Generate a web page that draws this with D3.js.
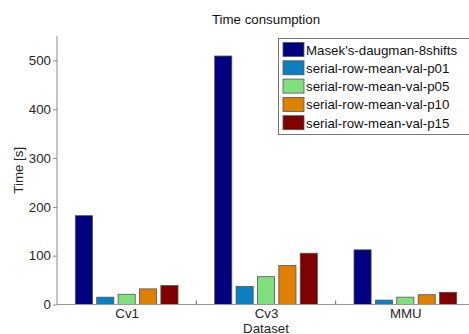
<!DOCTYPE html>
<html><head><meta charset="utf-8">
<script src="https://cdn.jsdelivr.net/npm/d3@7"></script>
<style>body{margin:0;background:#fff;} svg{display:block;font-family:"Liberation Sans",Arial,sans-serif;}</style>
</head><body>
<script>
const categories = ["Cv1", "Cv3", "MMU"];
const seriesNames = ["Masek's-daugman-8shifts", "serial-row-mean-val-p01", "serial-row-mean-val-p05", "serial-row-mean-val-p10", "serial-row-mean-val-p15"];
const masek = [182, 509, 112];
const p01 = [15, 37, 9];
const p05 = [21, 57, 15];
const p10 = [32, 80, 20];
const p15 = [39, 105, 25];
const colors = ["#000080", "#0a80c2", "#80e080", "#e08000", "#800000"];
const yTicks = [0, 100, 200, 300, 400, 500];
const series = [masek, p01, p05, p10, p15];

(function () {
const W = 469, H = 334;
const FS = 13.3;
const svg = d3.select("body").append("svg").attr("width", W).attr("height", H);
const mLeft = 57, mRight = 475, mTop = 36, mBottom = 304.5;
const x = d3.scaleLinear().domain([0.5, 3.5]).range([mLeft, mRight]);
const y = d3.scaleLinear().domain([0, 550]).range([mBottom, mTop]);
const step = (x(2) - x(1));
const barStep = step * 0.1535, barW = step * 0.123;
const textCol = "#262626";

// bars
series.forEach((vals, si) => {
  svg.append("g").selectAll("rect").data(vals).enter().append("rect")
    .attr("x", (d, i) => x(i + 1) + (si - 2) * barStep - barW / 2)
    .attr("width", barW)
    .attr("y", d => y(d))
    .attr("height", d => y(0) - y(d))
    .attr("fill", colors[si])
    .attr("stroke", "#555").attr("stroke-width", 0.8);
});

// y axis
const yAxis = d3.axisLeft(y).tickValues(yTicks).tickSize(4).tickPadding(2);
const gy = svg.append("g").attr("transform", `translate(${mLeft},0)`).call(yAxis);
gy.select(".domain").attr("stroke", "#888").attr("d", `M0,${mTop}V${mBottom}`);
gy.selectAll(".tick line").attr("stroke", "#888");
gy.selectAll("text").attr("font-size", FS).attr("fill", textCol).attr("font-family", "Liberation Sans, Arial, sans-serif");

// x axis
const xAxis = d3.axisBottom(x).tickValues([1, 2, 3]).tickFormat((d, i) => categories[i]).tickSize(0).tickPadding(4);
const gx = svg.append("g").attr("transform", `translate(0,${mBottom})`).call(xAxis);
gx.select(".domain").attr("stroke", "#999").attr("d", `M${mLeft},0H${mRight}`);
gx.selectAll("text").attr("font-size", FS).attr("fill", textCol).attr("font-family", "Liberation Sans, Arial, sans-serif");
gx.selectAll(".minor").data([1.5, 2.5]).enter().append("line")
  .attr("x1", d => x(d)).attr("x2", d => x(d)).attr("y1", 0).attr("y2", -4).attr("stroke", "#666");

// title and labels
svg.append("text").attr("x", x(2)).attr("y", 24).attr("text-anchor", "middle")
  .attr("font-size", FS).attr("fill", "#111").text("Time consumption");
svg.append("text").attr("x", x(2)).attr("y", 332.5).attr("text-anchor", "middle")
  .attr("font-size", FS).attr("fill", textCol).text("Dataset");
svg.append("text").attr("transform", `translate(23,${(mTop + mBottom) / 2}) rotate(-90)`).attr("text-anchor", "middle")
  .attr("font-size", FS).attr("fill", textCol).text("Time [s]");

// legend
const lg = svg.append("g");
lg.append("rect").attr("x", 278.5).attr("y", 38.5).attr("width", 200).attr("height", 96)
  .attr("fill", "#fff").attr("stroke", "#777").attr("stroke-width", 1);
seriesNames.forEach((n, i) => {
  const yy = 42.5 + i * 18.3;
  lg.append("rect").attr("x", 283).attr("y", yy).attr("width", 21).attr("height", 14)
    .attr("fill", colors[i]).attr("stroke", "#555").attr("stroke-width", 0.8);
  lg.append("text").attr("x", 306).attr("y", yy + 12).attr("font-size", FS).attr("fill", "#111").text(n);
});
})();
</script>
</body></html>
